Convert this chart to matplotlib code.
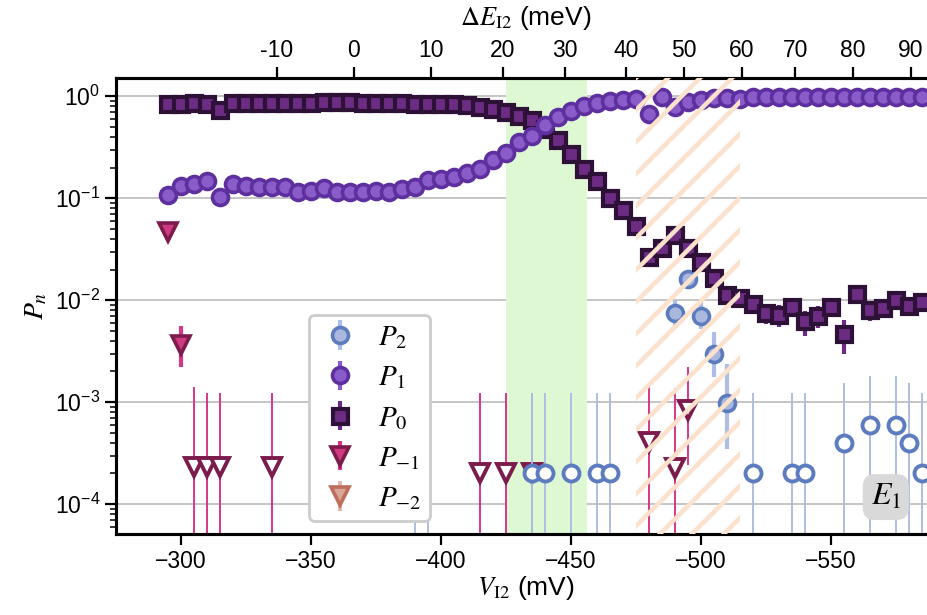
import numpy as np
import matplotlib
matplotlib.use("Agg")
import matplotlib.pyplot as plt
from matplotlib.lines import Line2D
from matplotlib.transforms import IdentityTransform

plt.rcParams["font.family"] = ["Liberation Sans", "DejaVu Sans"]
plt.rcParams["mathtext.fontset"] = "stix"

# gate voltage sweep (mV)
v_i2 = np.arange(-295, -586, -5)

p0 = [0.84, 0.84, 0.85, 0.84, 0.74, 0.85, 0.86, 0.865, 0.865, 0.865,
      0.865, 0.865, 0.87, 0.87, 0.87, 0.865, 0.865, 0.86, 0.855, 0.845,
      0.84, 0.84, 0.83, 0.82, 0.79, 0.755, 0.70, 0.64, 0.59, 0.48,
      0.37, 0.27, 0.195, 0.147, 0.100, 0.076, 0.053, 0.0267, 0.0324, 0.0437,
      0.0324, 0.0239, 0.0164, 0.0113, 0.0105, 0.0092, 0.0075, 0.0072, 0.0085, 0.0062,
      0.0070, 0.0085, 0.0047, 0.0115, 0.0080, 0.0084, 0.0101, 0.0088, 0.0097]
p0_err = 0.0017

p1 = [0.108, 0.132, 0.138, 0.146, 0.102, 0.138, 0.132, 0.128, 0.128, 0.128,
      0.116, 0.119, 0.125, 0.116, 0.114, 0.114, 0.118, 0.114, 0.122, 0.128,
      0.151, 0.154, 0.161, 0.176, 0.193, 0.237, 0.280, 0.356, 0.407, 0.520,
      0.631, 0.723, 0.803, 0.853, 0.890, 0.925, 0.940, 0.675, 0.977, 0.790,
      0.885, 0.920, 0.960, 0.970, 0.950, 0.975, 0.975, 0.980, 0.980, 0.985,
      0.980, 0.985, 0.985, 0.980, 0.985, 0.990, 0.985, 0.990, 0.985]
p1_err = 0.0017

# P_2: measured points
p2_v = [-490, -495, -500, -505, -510]
p2 = [0.0075, 0.0161, 0.0070, 0.00297, 0.00099]
p2_err_lo = [0.0020, 0.0030, 0.0018, 0.0012, 0.00064]
p2_err_hi = [0.0026, 0.0030, 0.0027, 0.0019, 0.0014]
# P_2: bounds (no counts)
p2b_v = [-390, -395, -435, -440, -450, -460, -465, -520, -535, -540,
         -555, -565, -575, -580, -585]
p2b = [0.0, 0.0, 2e-4, 2e-4, 2e-4, 2e-4, 2e-4, 2e-4, 2e-4, 2e-4,
       4e-4, 6e-4, 6e-4, 4e-4, 2e-4]
p2b_err_hi = [7e-5, 7e-5, 0.00103, 0.00103, 0.00103, 0.00103, 0.00103, 0.00103, 0.00103, 0.00103,
              0.00113, 0.0012, 0.0012, 0.00113, 0.00103]

# P_-1: measured points
pm1_v = [-295, -300]
pm1 = [0.047, 0.0036]
pm1_err_lo = [0.004, 0.0014]
pm1_err_hi = [0.004, 0.0020]
# P_-1: bounds
pm1b_v = [-305, -310, -315, -335, -415, -425, -435, -480, -490, -495]
pm1b = [2.3e-4, 2.3e-4, 2.3e-4, 2.3e-4, 2e-4, 2e-4, 2e-4, 4.1e-4, 2.25e-4, 8.4e-4]
pm1b_err_lo = [2.3e-4, 2.3e-4, 2.3e-4, 2.3e-4, 2e-4, 2e-4, 2e-4, 4.1e-4, 2.25e-4, 6.0e-4]
pm1b_err_hi = [0.00119, 0.00101, 0.00101, 0.00100, 0.00103, 0.00103, 0.00103, 0.00112, 0.00115, 0.00139]

# P_-2: nothing above the plotted range
pm2_v = []
pm2 = []

# energy scale on the top axis
delta_e_ticks = [-10, 0, 10, 20, 30, 40, 50, 60, 70, 80, 90]
v_at_delta_e = [-336.8, -366.4, -396.3, -423.7, -447.7, -471.3, -493.6, -515.6, -536.3, -558.3, -580.6]

green_window = (-425, -456)
hatched_window = (-475, -515)

c_p2 = dict(fc="#a9b8dc", ec="#5d7cbf", bar="#aebde3")
c_p1 = dict(fc="#8a5cc9", ec="#5e309f", bar="#8a5cc9")
c_p0 = dict(fc="#6c2c83", ec="#2e1136", bar="#6c2c83")
c_m1 = dict(fc="#cf3a80", ec="#7c1c4d", bar="#d8368a")
c_m2 = dict(fc="#d9a698", ec="#bf6d5c", bar="#e2b9ae")

fig = plt.figure(figsize=(9.28, 6.15), dpi=100)
ax = fig.add_axes([0.125, 0.1317, 0.8825, 0.7415])
ax.set_yscale("log")
ax.set_xlim(-275, -590)
ax.set_ylim(5.1e-5, 1.51)
ax.set_axisbelow(True)
ax.grid(True, axis="y", which="major", color="#b5b5b5", lw=1.1)

ax.axvspan(*green_window, color="#ddf8d2", lw=0, zorder=1)

# sparse diagonal hatching over the second window
fig.canvas.draw()
hatch_box = ax.axvspan(*hatched_window, facecolor="none", edgecolor="none", zorder=1)
bb = ax.get_window_extent()
xa = ax.transData.transform((hatched_window[0], 1))[0]
xb = ax.transData.transform((hatched_window[1], 1))[0]
for off in np.arange(-bb.height, xb - xa + bb.height, 32):
    x0 = xa + off
    ln = Line2D([x0 - bb.height, x0 + bb.height], [bb.y0 - bb.height, bb.y0 + bb.height],
                transform=IdentityTransform(), color="#fce1cc", lw=3.2, zorder=1.2)
    ln.set_clip_path(hatch_box)
    fig.add_artist(ln)

ms_c, ms_s, ms_t = 11.5, 10.8, 13.0

# P_2
h2 = ax.errorbar(p2_v, p2, yerr=[p2_err_lo, p2_err_hi], fmt="o", ms=ms_c,
                 mfc=c_p2["fc"], mec=c_p2["ec"], mew=2.6, ecolor=c_p2["bar"],
                 elinewidth=3, capsize=0, zorder=4)
ax.errorbar(p2b_v, p2b, yerr=[p2b, p2b_err_hi], fmt="o", ms=ms_c,
            mfc="white", mec=c_p2["ec"], mew=2.8, ecolor=c_p2["bar"],
            elinewidth=1.4, capsize=0, zorder=3)
# P_-1
hm1 = ax.errorbar(pm1_v, pm1, yerr=[pm1_err_lo, pm1_err_hi], fmt="v", ms=ms_t,
                  mfc=c_m1["fc"], mec=c_m1["ec"], mew=2.6, ecolor=c_m1["bar"],
                  elinewidth=3, capsize=0, zorder=4)
ax.errorbar(pm1b_v, pm1b, yerr=[pm1b_err_lo, pm1b_err_hi], fmt="v", ms=ms_t,
            mfc="white", mec=c_m1["ec"], mew=2.8, ecolor=c_m1["bar"],
            elinewidth=1.4, capsize=0, zorder=2.5)
# P_-2
hm2 = ax.errorbar(pm2_v, pm2, yerr=np.zeros(len(pm2)), fmt="v", ms=ms_t,
                  mfc=c_m2["fc"], mec=c_m2["ec"], mew=2.6, ecolor=c_m2["bar"],
                  elinewidth=3, capsize=0, zorder=4)
# P_0 and P_1
h0 = ax.errorbar(v_i2, p0, yerr=p0_err, fmt="s", ms=ms_s,
                 mfc=c_p0["fc"], mec=c_p0["ec"], mew=3.0, ecolor=c_p0["bar"],
                 elinewidth=3, capsize=0, zorder=5)
h1 = ax.errorbar(v_i2, p1, yerr=p1_err, fmt="o", ms=ms_c,
                 mfc=c_p1["fc"], mec=c_p1["ec"], mew=2.6, ecolor=c_p1["bar"],
                 elinewidth=3, capsize=0, zorder=6)

ax.set_xticks([-300, -350, -400, -450, -500, -550])
ax.tick_params(axis="both", which="major", labelsize=16.5, length=8, width=1.6, direction="out")
ax.tick_params(axis="y", which="minor", length=4.5, width=1.1)
for s in ax.spines.values():
    s.set_linewidth(2.2)

ax.set_xlabel(r"$V_\mathrm{I2}$ (mV)", fontsize=19, labelpad=1)
ax.set_ylabel(r"$P_n$", fontsize=20, labelpad=4)

top = ax.twiny()
top.set_xlim(ax.get_xlim())
top.set_xticks(v_at_delta_e)
top.set_xticklabels([str(t) for t in delta_e_ticks])
top.tick_params(axis="x", labelsize=16.5, length=8, width=1.6, direction="out")
top.set_xlabel(r"$\Delta E_\mathrm{I2}$ (meV)", fontsize=19, labelpad=10)
for s in top.spines.values():
    s.set_linewidth(2.2)

leg = ax.legend([h2, h1, h0, hm1, hm2],
                [r"$P_2$", r"$P_1$", r"$P_0$", r"$P_{-1}$", r"$P_{-2}$"],
                loc="lower left", bbox_to_anchor=(0.2357, 0.0285), borderaxespad=0,
                fontsize=21, frameon=True, fancybox=True, edgecolor="#cccccc",
                framealpha=1.0, labelspacing=0.42, handletextpad=0.55, handlelength=1.5,
                borderpad=0.3)
leg.get_frame().set_linewidth(2)
leg.set_zorder(10)

ax.text(0.940, 0.081, r"$E_1$", transform=ax.transAxes, fontsize=23,
        ha="center", va="center", zorder=10,
        bbox=dict(boxstyle="round,pad=0.25,rounding_size=0.4", fc="#d9d9d9", ec="none"))

fig.savefig("out.png", dpi=100)
